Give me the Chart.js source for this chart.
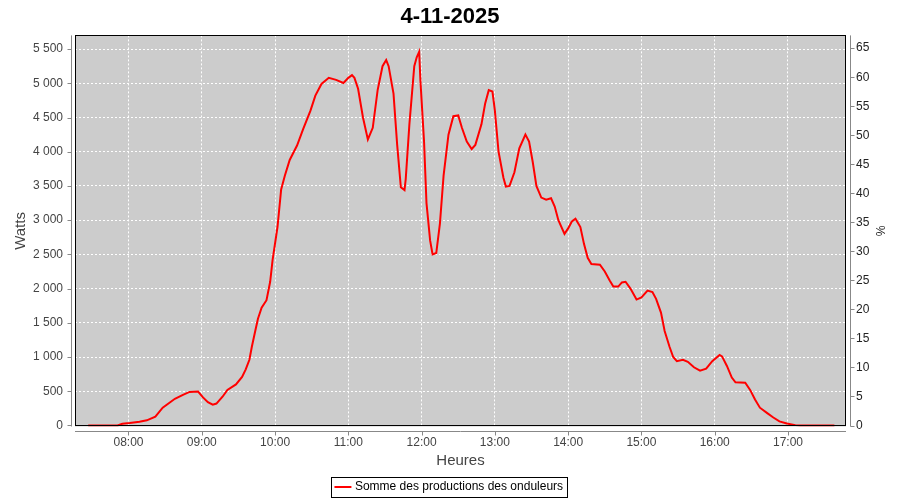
<!DOCTYPE html>
<html>
<head>
<meta charset="utf-8">
<script src="https://cdn.jsdelivr.net/npm/chart.js@4.4.1/dist/chart.umd.min.js"></script>
<style>
  html, body { margin: 0; padding: 0; background: #fff; }
  #wrap { width: 900px; height: 500px; }
</style>
</head>
<body>
<div id="wrap"><canvas id="chart" width="900" height="500"></canvas></div>
<script>
// Production du 4-11-2025 (lecture de la courbe, une valeur toutes les quelques minutes)
const chartTitle = '4-11-2025';
const seriesLabel = 'Somme des productions des onduleurs';

const times = [
  '07:27', '07:51', '07:55', '08:01', '08:09', '08:15', '08:22', '08:28', '08:38', '08:45',
  '08:50', '08:57', '09:01', '09:05', '09:09', '09:12', '09:17', '09:21', '09:28', '09:33',
  '09:36', '09:39', '09:41', '09:44', '09:46', '09:49', '09:53', '09:56', '09:58', '10:02',
  '10:05', '10:08', '10:12', '10:18', '10:23', '10:29', '10:33', '10:38', '10:44', '10:50',
  '10:56', '11:00', '11:03', '11:05', '11:08', '11:12', '11:16', '11:20', '11:24', '11:28',
  '11:31', '11:33', '11:37', '11:40', '11:43', '11:46', '11:47', '11:50', '11:54', '11:56',
  '11:58', '11:59', '12:02', '12:04', '12:07', '12:09', '12:12', '12:15', '12:18', '12:22',
  '12:26', '12:30', '12:33', '12:37', '12:41', '12:44', '12:49', '12:52', '12:55', '12:58',
  '13:00', '13:03', '13:07', '13:09', '13:12', '13:16', '13:20', '13:25', '13:28', '13:31',
  '13:34', '13:38', '13:42', '13:46', '13:49', '13:52', '13:57', '14:00', '14:03', '14:06',
  '14:10', '14:13', '14:16', '14:19', '14:26', '14:30', '14:34', '14:37', '14:41', '14:44',
  '14:47', '14:51', '14:56', '15:00', '15:05', '15:09', '15:12', '15:16', '15:19', '15:23',
  '15:26', '15:29', '15:34', '15:38', '15:43', '15:48', '15:53', '15:58', '16:04', '16:06',
  '16:10', '16:14', '16:17', '16:25', '16:29', '16:33', '16:37', '16:43', '16:48', '16:53',
  '16:59', '17:06', '17:10', '17:38'
];

const watts = [
  0, 0, 25, 35, 55, 75, 130, 260, 390, 450,
  490, 495, 410, 340, 305, 320, 420, 520, 600, 710,
  820, 960, 1150, 1400, 1560, 1720, 1830, 2100, 2420, 2900,
  3450, 3650, 3880, 4090, 4330, 4600, 4820, 4990, 5080, 5050,
  5005, 5080, 5120, 5080, 4920, 4500, 4180, 4350, 4900, 5250,
  5340, 5250, 4850, 4100, 3480, 3440, 3600, 4400, 5250, 5380,
  5460, 5050, 4150, 3250, 2700, 2500, 2520, 2950, 3650, 4250,
  4520, 4530, 4350, 4150, 4040, 4100, 4400, 4700, 4900, 4880,
  4600, 4000, 3620, 3490, 3500, 3700, 4050, 4250, 4150, 3850,
  3500, 3330, 3300, 3320, 3200, 3000, 2800, 2880, 2980, 3020,
  2900, 2650, 2450, 2360, 2350, 2250, 2120, 2030, 2030, 2090,
  2100, 2000, 1840, 1870, 1970, 1950, 1850, 1650, 1380, 1150,
  1000, 940, 960, 930, 850, 800, 830, 940, 1030, 1010,
  870, 700, 630, 626, 520, 380, 260, 180, 116, 60,
  29, 5, 0, 0
];

const hourTicks = ['08:00', '09:00', '10:00', '11:00', '12:00', '13:00', '14:00', '15:00', '16:00', '17:00'];
const wattTicks = [0, 500, 1000, 1500, 2000, 2500, 3000, 3500, 4000, 4500, 5000, 5500];
const percentTicks = [0, 5, 10, 15, 20, 25, 30, 35, 40, 45, 50, 55, 60, 65];

const toMinutes = (hhmm) => {
  const [h, m] = hhmm.split(':').map(Number);
  return h * 60 + m;
};
const toHHMM = (min) => {
  const h = Math.floor(min / 60);
  const m = Math.round(min - h * 60);
  return String(h).padStart(2, '0') + ':' + String(m).padStart(2, '0');
};
const spaced = (v) => String(v).replace(/\B(?=(\d{3})+(?!\d))/g, ' ');

const points = times.map((t, i) => ({ x: toMinutes(t), y: watts[i] }));

Chart.defaults.font.family = '"Liberation Sans", Arial, sans-serif';
Chart.defaults.font.size = 12;

// fond gris du graphique, cadre noir, axes décalés avec petites graduations
const plotFrame = {
  id: 'plotFrame',
  beforeDraw(chart) {
    const { ctx, chartArea: a } = chart;
    ctx.save();
    ctx.fillStyle = '#ffffff';
    ctx.fillRect(0, 0, chart.width, chart.height);
    ctx.fillStyle = '#cccccc';
    ctx.fillRect(a.left, a.top, a.right - a.left, a.bottom - a.top);
    ctx.restore();
  },
  afterDraw(chart) {
    const { ctx, chartArea: a, scales } = chart;
    const gap = 4, tick = 4;
    ctx.save();
    ctx.lineWidth = 1;
    ctx.strokeStyle = '#000000';
    ctx.strokeRect(Math.round(a.left) + 0.5, Math.round(a.top) + 0.5,
      Math.round(a.right - a.left) - 1, Math.round(a.bottom - a.top) - 1);

    ctx.strokeStyle = '#888888';
    ctx.beginPath();
    const lx = Math.round(a.left - gap) + 0.5;
    ctx.moveTo(lx, a.top); ctx.lineTo(lx, a.bottom);
    scales.y.ticks.forEach(t => {
      const py = Math.round(scales.y.getPixelForValue(t.value)) + 0.5;
      ctx.moveTo(lx - tick, py); ctx.lineTo(lx, py);
    });
    const rx = Math.round(a.right + gap) + 0.5;
    ctx.moveTo(rx, a.top); ctx.lineTo(rx, a.bottom);
    scales.y1.ticks.forEach(t => {
      const py = Math.round(scales.y1.getPixelForValue(t.value)) + 0.5;
      ctx.moveTo(rx, py); ctx.lineTo(rx + tick, py);
    });
    const by = Math.round(a.bottom + gap) + 0.5;
    ctx.moveTo(a.left, by); ctx.lineTo(a.right, by);
    scales.x.ticks.forEach(t => {
      const px = Math.round(scales.x.getPixelForValue(t.value)) + 0.5;
      ctx.moveTo(px, by); ctx.lineTo(px, by + tick);
    });
    ctx.stroke();

    // cadre de la légende
    const hb = chart.legend.legendHitBoxes[0];
    if (hb) {
      ctx.strokeStyle = '#000000';
      ctx.strokeRect(Math.round(hb.left - 6) + 0.5, Math.round(hb.top - 4) + 0.5,
        Math.round(hb.width + 10), Math.round(hb.height + 8));
    }
    ctx.restore();
  }
};

const gridStyle = { color: '#ffffff', lineWidth: 1, drawTicks: false };
const dashed = { display: false, dash: [2, 2] };

new Chart(document.getElementById('chart'), {
  type: 'line',
  data: {
    datasets: [{
      label: seriesLabel,
      data: points,
      borderColor: '#ff0000',
      backgroundColor: '#ff0000',
      borderWidth: 2,
      pointRadius: 0,
      tension: 0,
      fill: false,
      yAxisID: 'y'
    }]
  },
  options: {
    responsive: false,
    animation: false,
    layout: { padding: { top: 0, left: 0, right: 0, bottom: -3 } },
    plugins: {
      title: {
        display: true,
        text: chartTitle,
        color: '#000000',
        font: { size: 22, weight: 'bold' },
        padding: { top: 4, bottom: 5 }
      },
      legend: {
        display: true,
        position: 'bottom',
        labels: {
          color: '#000000',
          usePointStyle: true,
          pointStyle: 'line',
          boxHeight: 12,
          padding: 10,
          font: { size: 12 }
        }
      },
      tooltip: { enabled: false }
    },
    scales: {
      x: {
        type: 'linear',
        min: 436.2,
        max: 1067.5,
        grid: gridStyle,
        border: dashed,
        afterBuildTicks: (scale) => {
          scale.ticks = hourTicks.map(h => ({ value: toMinutes(h) }));
        },
        afterFit: (scale) => { scale.height = 44.5; },
        ticks: {
          color: '#444444',
          padding: 9,
          maxRotation: 0,
          autoSkip: false,
          callback: (v) => toHHMM(v)
        },
        title: {
          display: true,
          text: 'Heures',
          color: '#444444',
          font: { size: 15 },
          padding: { top: 0, bottom: 1 }
        }
      },
      y: {
        type: 'linear',
        position: 'left',
        min: -15,
        max: 5700,
        grid: gridStyle,
        border: dashed,
        afterBuildTicks: (scale) => {
          scale.ticks = wattTicks.map(v => ({ value: v }));
        },
        afterFit: (scale) => { scale.width = 75; },
        ticks: {
          color: '#444444',
          padding: 12,
          callback: (v) => spaced(v)
        },
        title: {
          display: true,
          text: 'Watts',
          color: '#444444',
          font: { size: 15 },
          padding: { top: 12, bottom: 0 }
        }
      },
      y1: {
        type: 'linear',
        position: 'right',
        display: true,
        min: -0.17,
        max: 67.2,
        grid: { drawOnChartArea: false, drawTicks: false },
        border: { display: false },
        afterBuildTicks: (scale) => {
          scale.ticks = percentTicks.map(v => ({ value: v }));
        },
        afterFit: (scale) => { scale.width = 54; },
        ticks: {
          color: '#222222',
          padding: 10,
          callback: (v) => String(v)
        },
        title: {
          display: true,
          text: '%',
          color: '#222222',
          font: { size: 12 },
          padding: { top: 13, bottom: 0 }
        }
      }
    }
  },
  plugins: [plotFrame]
});
</script>
</body>
</html>
